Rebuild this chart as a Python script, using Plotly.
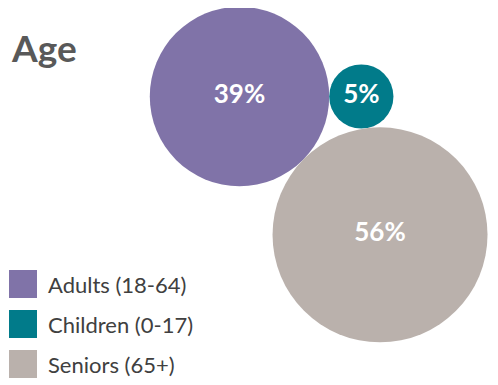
import math
import plotly.graph_objects as go

categories = ["Adults (18-64)", "Children (0-17)", "Seniors (65+)"]
shares = [39, 5, 56]
labels = ["39%", "5%", "56%"]
colors = ["#8073A8", "#017B8A", "#BAB1AC"]

W, H = 498, 385
PAD = 8  # default page margin of the html body
font = "Lato"

# bubble radius (px) proportional to sqrt(share)
k = 107.5 / math.sqrt(max(shares))
r = [k * math.sqrt(v) for v in shares]

# pack the three bubbles so they all touch each other
ax, ay = 239.5, 96.5
cx, cy = ax + r[0] + r[1], ay
base = r[0] + r[1]
da = r[0] + r[2]
dc = r[1] + r[2]
px = (da ** 2 - dc ** 2 + base ** 2) / (2 * base)
py = math.sqrt(da ** 2 - px ** 2)
xs = [ax, cx, ax + px]
ys = [ay, cy, ay + py]

fig = go.Figure()
fig.add_trace(go.Scatter(
    x=xs, y=ys, mode="markers+text",
    text=labels, textposition="middle center",
    textfont=dict(family=font, size=26, color="white", weight="bold"),
    marker=dict(size=[2 * v for v in r], sizemode="diameter", color=colors,
                line=dict(width=0), opacity=1),
    hoverinfo="skip", showlegend=False,
))

# legend built by hand: big squares + labels
shapes = []
annotations = []
for i, (name, col) in enumerate(zip(categories, colors)):
    top = 270 + i * 40
    shapes.append(dict(type="rect", xref="x", yref="y", x0=9, x1=37, y0=top, y1=top + 28,
                       fillcolor=col, line=dict(width=0), layer="below"))
    annotations.append(dict(x=46, y=top + 14, xref="x", yref="y", text=name, showarrow=False,
                            xanchor="left", yanchor="middle",
                            font=dict(family=font, size=22, color="#404040")))

annotations.append(dict(x=9, y=47, xref="x", yref="y", text="<b>Age</b>", showarrow=False,
                        xanchor="left", yanchor="middle",
                        font=dict(family=font, size=37, color="#595959")))

fig.update_layout(
    width=W - PAD, height=H - PAD,
    margin=dict(l=0, r=0, t=0, b=0),
    paper_bgcolor="white", plot_bgcolor="white",
    xaxis=dict(range=[PAD, W], visible=False, fixedrange=True),
    yaxis=dict(range=[H, PAD], visible=False, fixedrange=True),
    shapes=shapes, annotations=annotations,
    showlegend=False,
)

fig.write_html("out.html")
